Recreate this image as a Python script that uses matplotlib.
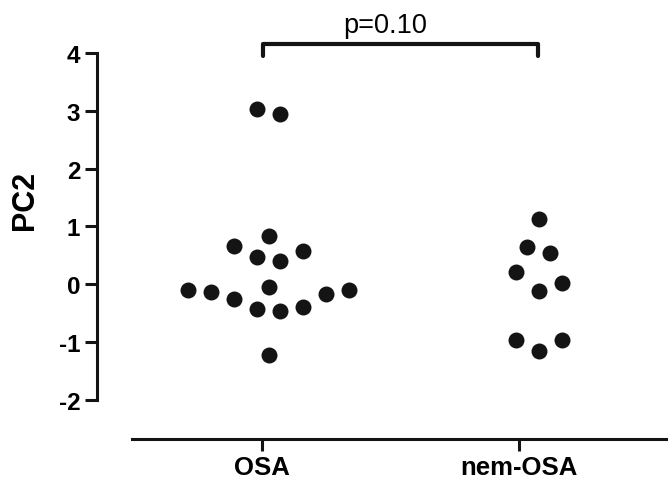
import numpy as np
import matplotlib
matplotlib.use("Agg")
import matplotlib.pyplot as plt

# PC2 scores
groups = ["OSA", "nem-OSA"]
osa = [3.03, 2.94, 0.84, 0.67, 0.58, 0.48, 0.41, -0.04, -0.10, -0.13,
       -0.25, -0.43, -0.47, -0.40, -0.16, -0.10, -1.22]
nem_osa = [1.13, 0.64, 0.54, 0.21, 0.02, -0.12, -0.96, -1.15, -0.96]
p_text = "p=0.10"
yticks = [-2, -1, 0, 1, 2, 3, 4]

plt.rcParams['font.family'] = ['Liberation Sans', 'DejaVu Sans']
plt.rcParams['axes.unicode_minus'] = False
DOT = "#141414"


# Lay the points out in rows like a column scatter: points that fall in
# the same bin share a row, the biggest values go to the outside
def swarmOffsets(values, width=0.8, origin=-0.52, step=0.0895):
    bins = {}
    for i, v in enumerate(values):
        k = int(np.floor((v - origin) / width))
        bins.setdefault(k, []).append(i)
    offsets = np.zeros(len(values))
    for idx in bins.values():
        idx = sorted(idx, key=lambda i: -values[i])
        if len(idx) % 2 == 1 and len(idx) > 3:
            offsets[idx[0]] = 0.0
            idx = idx[1:]
        n = len(idx)
        slots = [j - (n - 1) / 2 for j in range(n)]
        slots = sorted(slots, key=lambda s: (-abs(s), s))
        for i, s in zip(idx, slots):
            offsets[i] = s * step
    return offsets


fig = plt.figure(figsize=(6.68, 4.81), dpi=100)
ax = fig.add_axes([97 / 668, 41 / 481, 571 / 668, 440 / 481])

centers = [1.027, 2.078]
for c, vals in zip(centers, [osa, nem_osa]):
    x = c + swarmOffsets(vals)
    ax.plot(x, vals, "o", color=DOT, markersize=11.5, markeredgewidth=0)

ax.set_xlim(0.358, 2.58)
ax.set_ylim(-2.677, 4.936)

# Axes: open frame, outward ticks
for side in ["top", "right"]:
    ax.spines[side].set_visible(False)
ax.spines["left"].set_bounds(-2, 4)
ax.spines["bottom"].set_bounds(0.494, 2.58)
for side in ["left", "bottom"]:
    ax.spines[side].set_linewidth(2.2)
    ax.spines[side].set_color("#141414")
    ax.spines[side].set_capstyle("projecting")

ax.set_yticks(yticks)
ax.set_xticks([1, 2])
ax.set_xticklabels(groups)
ax.tick_params(axis="y", length=8.6, width=2.2, pad=3.5, labelsize=17.5,
               color="#141414")
ax.tick_params(axis="x", length=8.6, width=2.2, pad=3, labelsize=18.5,
               color="#141414")
for lab in ax.get_xticklabels() + ax.get_yticklabels():
    lab.set_fontweight("bold")

ax.set_ylabel("PC2", fontsize=22, fontweight="bold")
ax.yaxis.set_label_coords(-0.1, 0.545)

# Significance bracket
bx = [1.004, 1.004, 2.074, 2.074]
by = [3.95, 4.16, 4.16, 3.95]
ax.plot(bx, by, color="#141414", linewidth=3, solid_capstyle="round",
        solid_joinstyle="round", clip_on=False)
ax.text(1.48, 4.37, p_text, ha="center", va="baseline", fontsize=19.5)

plt.savefig("out.png", dpi=100)
plt.close()
